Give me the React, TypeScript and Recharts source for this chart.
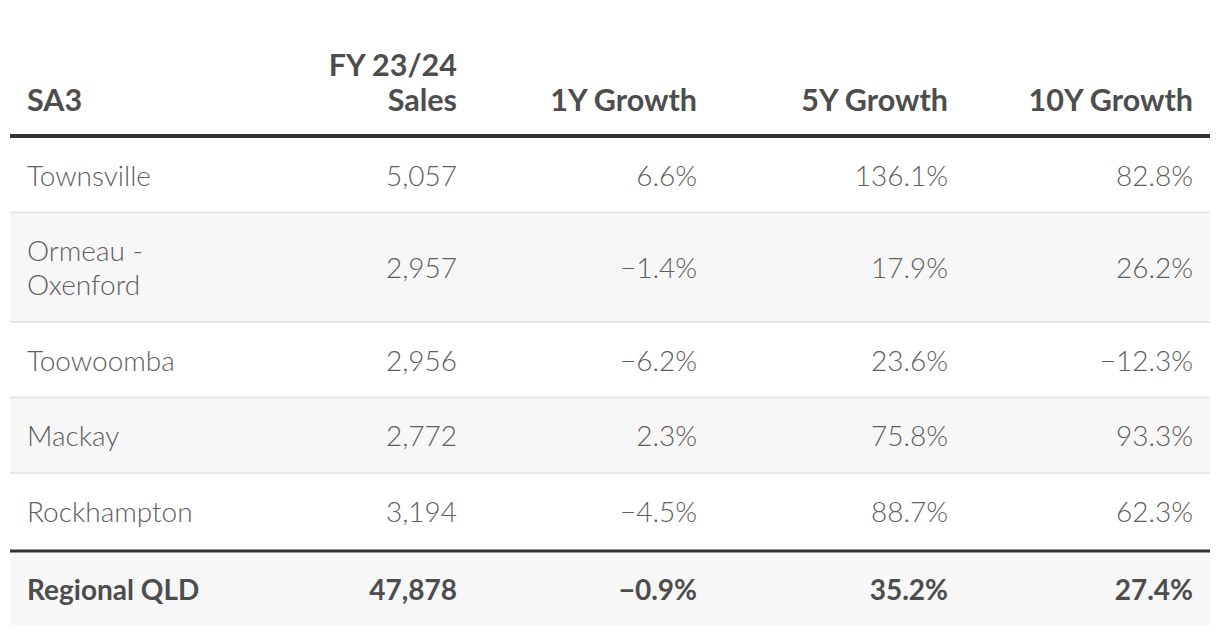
import React from "react";
import {
  ComposedChart,
  XAxis,
  YAxis,
  Scatter,
  ReferenceArea,
} from "recharts";

// table content
const headers = ["SA3", "FY 23/24\nSales", "1Y Growth", "5Y Growth", "10Y Growth"];
const regions = ["Townsville", "Ormeau - Oxenford", "Toowoomba", "Mackay", "Rockhampton"];
const sales = [5057, 2957, 2956, 2772, 3194];
const growth1Y = [6.6, -1.4, -6.2, 2.3, -4.5];
const growth5Y = [136.1, 17.9, 23.6, 75.8, 88.7];
const growth10Y = [82.8, 26.2, -12.3, 93.3, 62.3];
const totalLabel = "Regional QLD";
const totalSales = 47878;
const totalGrowth = [-0.9, 35.2, 27.4];

// layout (plot units are pixels)
const WIDTH = 1204;
const HEIGHT = 628;
const TABLE_W = 1200;
const COL_X = [17, 447, 687, 938, 1183];
const HEAD_SIZE = 30.5;
const BODY_SIZE = 28;
const LINE_H = 34;
const HEAD_LINE_H = 35;
const HEADER_BASE = 103; // baseline of the bottom header line
const HEADER_RULE = 126;
const ROW_BASE = 41.5; // row height without its text lines
const TOTAL_H = 73;
const FONT = "Lato, 'Open Sans', sans-serif";
const STRIPE = "#f7f7f7";
const SEPARATOR = "#e6e6e6";
const RULE = "#333333";

const fmtInt = (n: number) => n.toLocaleString("en-US");
const fmtPct = (n: number) => (n < 0 ? "\u2212" : "") + Math.abs(n).toFixed(1) + "%";

// break long region names like the narrow first column does
const wrap = (s: string, max = 14) => {
  if (s.length <= max) return [s];
  const cut = s.lastIndexOf(" ", max);
  return [s.slice(0, cut), s.slice(cut + 1)];
};

type Cell = {
  x: number;
  y: number;
  lines: string[];
  anchor: "start" | "end";
  weight: number;
  size: number;
  color: string;
  valign: "middle" | "bottom";
};

// rows
let cursor = HEADER_RULE + 4;
const bodyRows = regions.map((name, i) => {
  const lines = wrap(name);
  const h = ROW_BASE + LINE_H * lines.length;
  const row = {
    top: cursor,
    h,
    lines,
    values: [fmtInt(sales[i]), fmtPct(growth1Y[i]), fmtPct(growth5Y[i]), fmtPct(growth10Y[i])],
  };
  cursor += h;
  return row;
});
const totalRule = cursor;
const totalTop = totalRule + 3;

const headerCells: Cell[] = headers.map((h, c) => ({
  x: COL_X[c],
  y: HEADER_BASE,
  lines: h.split("\n"),
  anchor: c === 0 ? "start" : "end",
  weight: 700,
  size: HEAD_SIZE,
  color: "#4d4d4d",
  valign: "bottom",
}));

const bodyCells: Cell[] = [];
bodyRows.forEach((r) => {
  const cy = r.top + (r.h - 2) / 2 + 1;
  bodyCells.push({ x: COL_X[0], y: cy, lines: r.lines, anchor: "start", weight: 300, size: BODY_SIZE, color: "#5e5e5e", valign: "middle" });
  r.values.forEach((v, c) => {
    bodyCells.push({ x: COL_X[c + 1], y: cy, lines: [v], anchor: "end", weight: 300, size: BODY_SIZE, color: "#5e5e5e", valign: "middle" });
  });
});

const totalValues = [fmtInt(totalSales), ...totalGrowth.map(fmtPct)];
const totalCy = totalTop + TOTAL_H / 2 + 1;
const totalCells: Cell[] = [
  { x: COL_X[0], y: totalCy, lines: [totalLabel], anchor: "start", weight: 700, size: BODY_SIZE, color: "#4d4d4d", valign: "middle" },
  ...totalValues.map((v, c) => ({
    x: COL_X[c + 1],
    y: totalCy,
    lines: [v],
    anchor: "end" as const,
    weight: 700,
    size: BODY_SIZE,
    color: "#4d4d4d",
    valign: "middle" as const,
  })),
];

// one <text> per line so each line keeps its own box
const CellText = (props: any) => {
  const { cx, cy, payload } = props;
  const p: Cell = payload;
  const n = p.lines.length;
  const step = p.valign === "bottom" ? HEAD_LINE_H : LINE_H;
  const cap = p.size * 0.36;
  const first =
    p.valign === "bottom" ? cy - (n - 1) * step : cy - ((n - 1) / 2) * step + cap;
  return (
    <g>
      {p.lines.map((l, i) => (
        <text
          key={i}
          x={cx}
          y={first + i * step}
          textAnchor={p.anchor}
          fill={p.color}
          fontFamily={FONT}
          fontSize={p.size}
          fontWeight={p.weight}
        >
          {l}
        </text>
      ))}
    </g>
  );
};

export default function App() {
  return (
    <div style={{ background: "#fff" }}>
      <ComposedChart
        width={WIDTH}
        height={HEIGHT}
        margin={{ top: 0, right: 2, left: 2, bottom: 0 }}
      >
        <XAxis type="number" dataKey="x" domain={[0, TABLE_W]} hide />
        <YAxis type="number" dataKey="y" domain={[0, HEIGHT]} reversed hide />

        {/* zebra stripes and the total row */}
        {bodyRows.map((r, i) =>
          i % 2 === 1 ? (
            <ReferenceArea
              key={`bg${i}`}
              x1={0}
              x2={TABLE_W}
              y1={r.top}
              y2={r.top + r.h}
              fill={STRIPE}
              fillOpacity={1}
              stroke="none"
            />
          ) : null
        )}
        <ReferenceArea x1={0} x2={TABLE_W} y1={totalTop} y2={totalTop + TOTAL_H} fill={STRIPE} fillOpacity={1} stroke="none" />

        {/* thin separators between body rows */}
        {bodyRows.slice(0, -1).map((r, i) => (
          <ReferenceArea
            key={`sep${i}`}
            x1={0}
            x2={TABLE_W}
            y1={r.top + r.h - 2}
            y2={r.top + r.h}
            fill={SEPARATOR}
            fillOpacity={1}
            stroke="none"
          />
        ))}

        {/* heavy rules */}
        <ReferenceArea x1={0} x2={TABLE_W} y1={HEADER_RULE} y2={HEADER_RULE + 4} fill={RULE} fillOpacity={1} stroke="none" />
        <ReferenceArea x1={0} x2={TABLE_W} y1={totalRule} y2={totalRule + 3} fill={RULE} fillOpacity={1} stroke="none" />

        <Scatter data={headerCells} shape={CellText} isAnimationActive={false} />
        <Scatter data={bodyCells} shape={CellText} isAnimationActive={false} />
        <Scatter data={totalCells} shape={CellText} isAnimationActive={false} />
      </ComposedChart>
    </div>
  );
}
